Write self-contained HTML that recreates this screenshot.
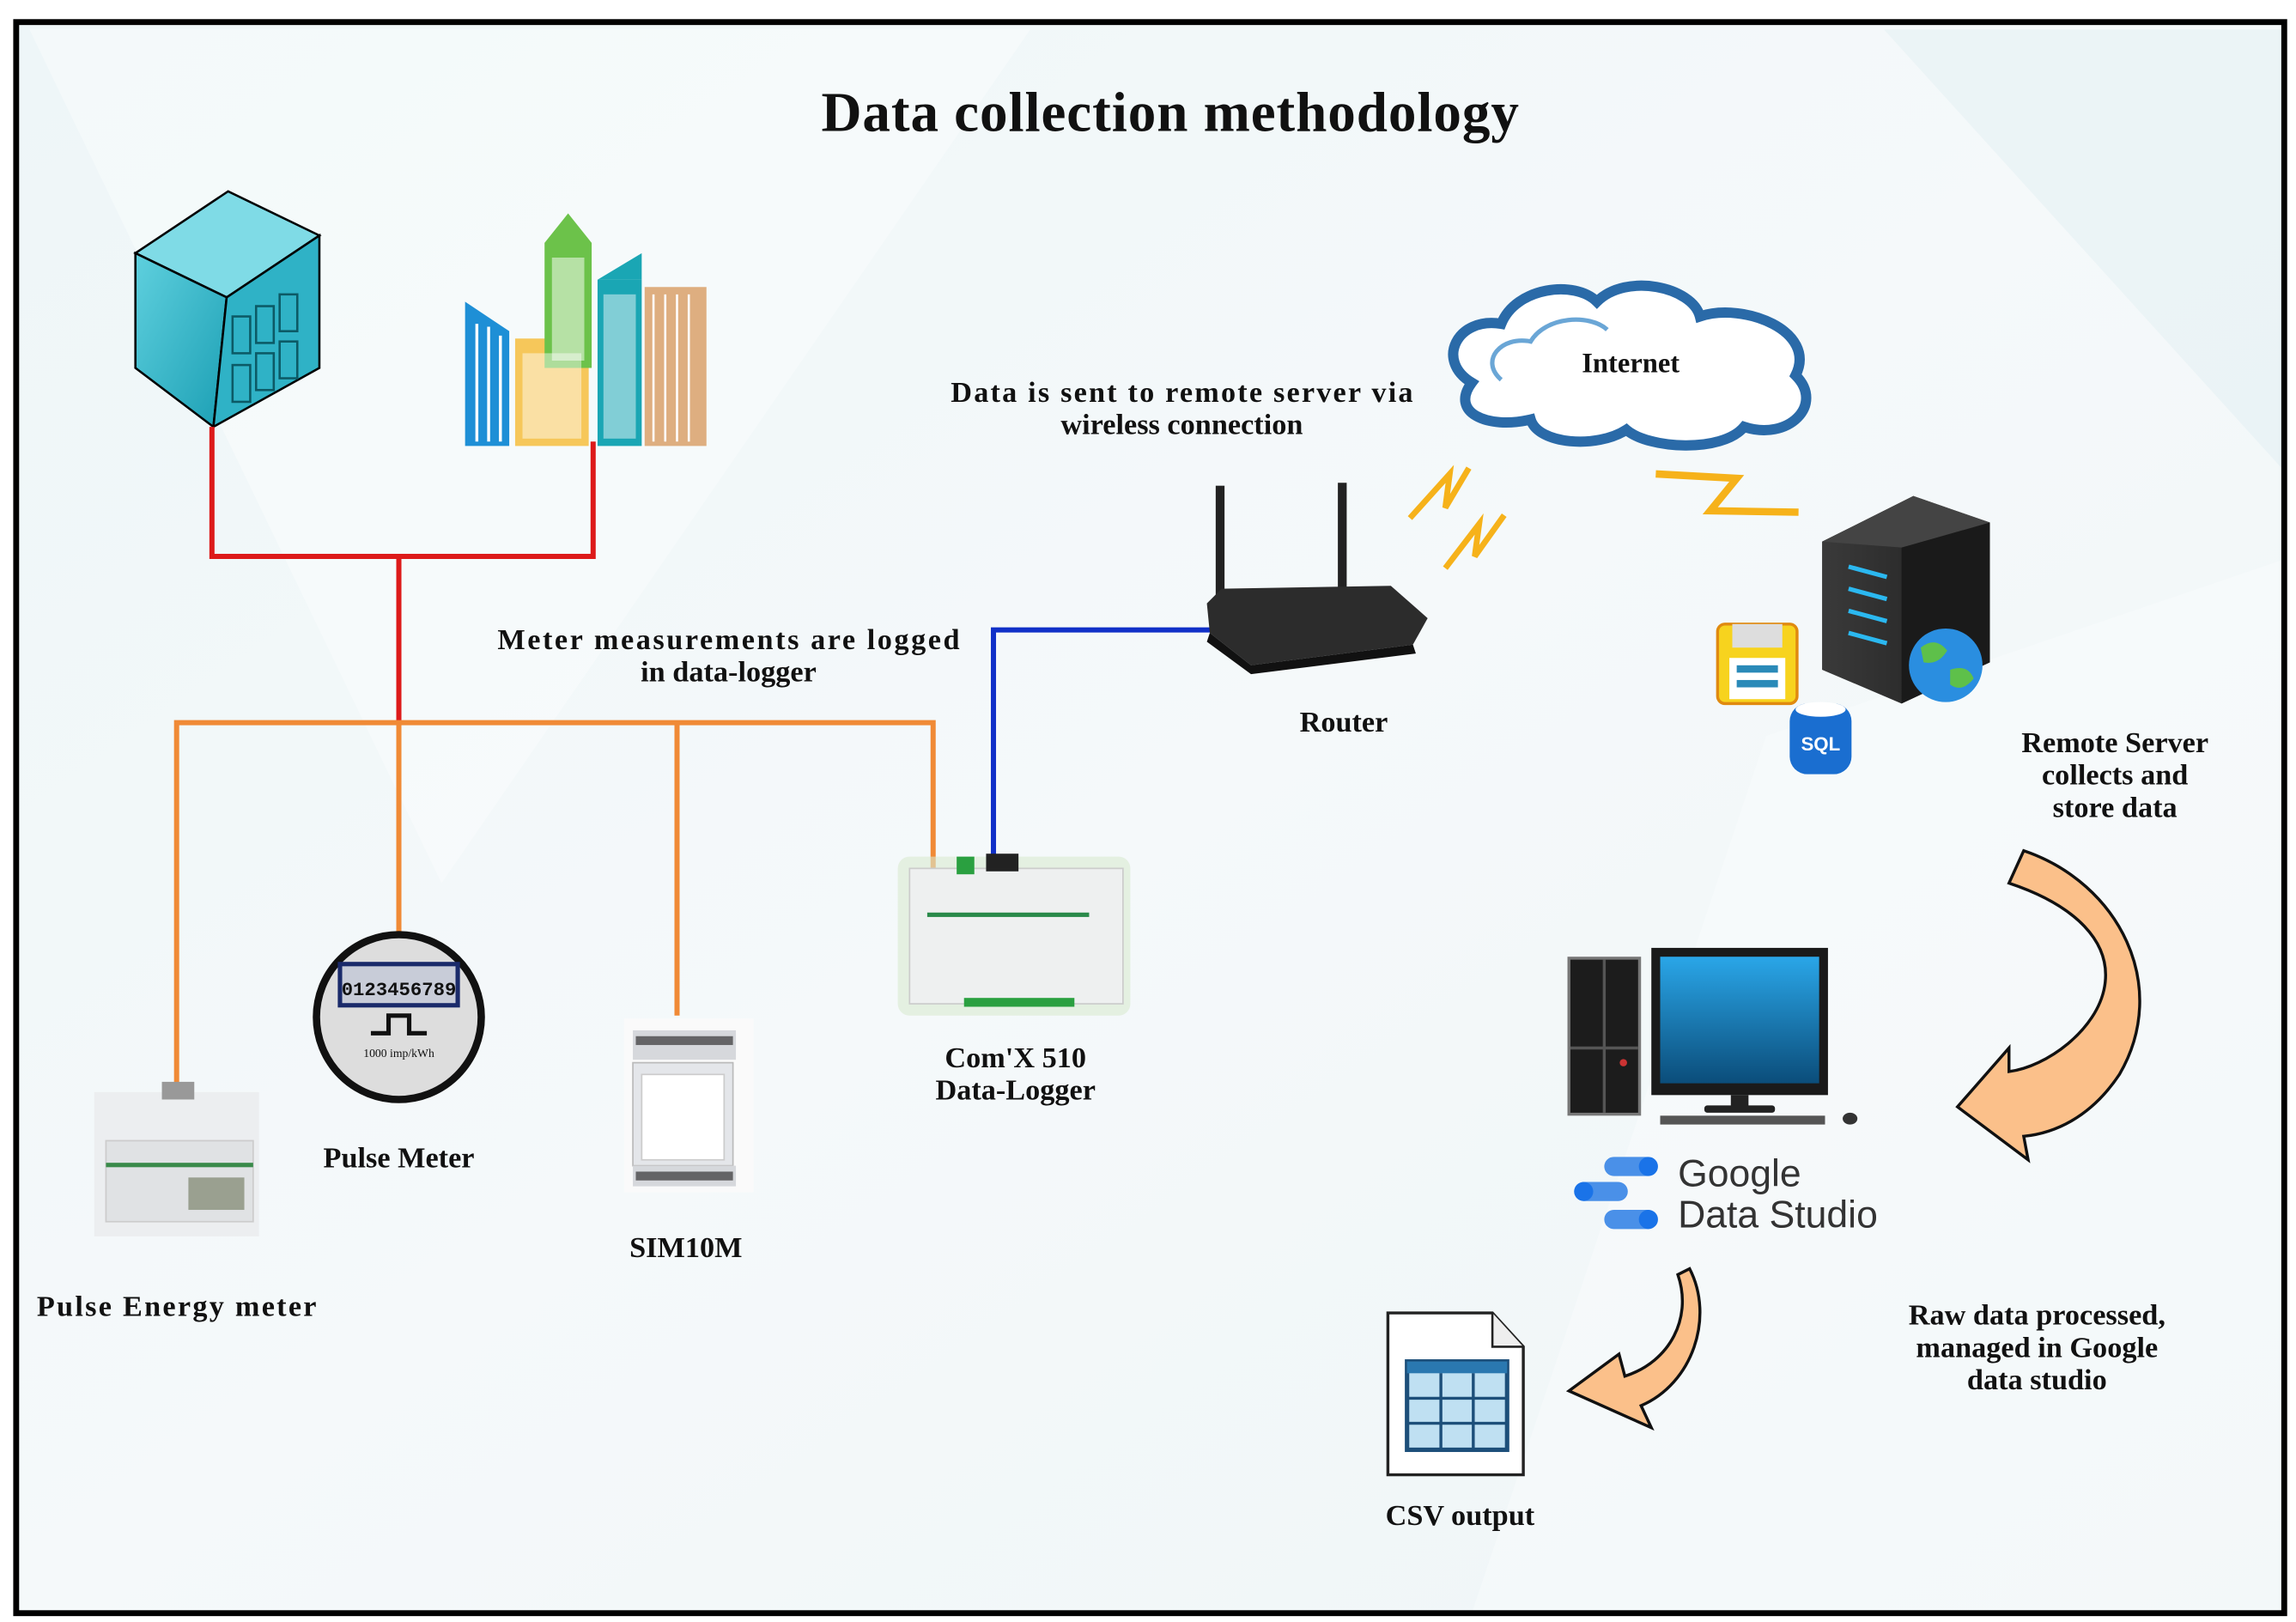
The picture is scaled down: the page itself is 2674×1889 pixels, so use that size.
<!DOCTYPE html>
<html><head><meta charset="utf-8"><style>
html,body{margin:0;padding:0;background:#fff;}
svg{display:block;}
text{font-family:"Liberation Serif",serif;fill:#111;}
.lb{font-size:20px;font-weight:bold;text-anchor:middle;}
</style></head><body>
<svg width="2674" height="1889" viewBox="0 0 1560 1102" xmlns="http://www.w3.org/2000/svg" preserveAspectRatio="none">
<defs>
<linearGradient id="bg" x1="0" y1="0" x2="1" y2="1">
<stop offset="0" stop-color="#eef6f8"/><stop offset="0.5" stop-color="#f5f9fa"/><stop offset="1" stop-color="#eef5f7"/>
</linearGradient>
<linearGradient id="tealf" x1="0" y1="0" x2="1" y2="1"><stop offset="0" stop-color="#5fd0de"/><stop offset="1" stop-color="#1b9fb4"/></linearGradient>
<linearGradient id="scr" x1="0" y1="0" x2="0" y2="1"><stop offset="0" stop-color="#2aa6e8"/><stop offset="1" stop-color="#0b4d7a"/></linearGradient>
<linearGradient id="srv" x1="0" y1="0" x2="1" y2="0"><stop offset="0" stop-color="#3a3a3a"/><stop offset="1" stop-color="#1e1e1e"/></linearGradient>
</defs>
<rect x="0" y="0" width="1560" height="1102" fill="#fff"/>
<rect x="11" y="15" width="1541" height="1081" fill="url(#bg)"/>
<polygon points="20,20 700,20 300,600" fill="#fff" opacity="0.35"/>
<polygon points="1280,20 1552,20 1552,320" fill="#e4f0f3" opacity="0.6"/>
<polygon points="1200,500 1552,380 1552,1096 1000,1096" fill="#fff" opacity="0.3"/>
<rect x="11" y="15" width="1541" height="1081" fill="none" stroke="#000" stroke-width="4"/>

<text x="795" y="89" textLength="474" style="font-size:38px;font-weight:bold;text-anchor:middle">Data collection methodology</text>

<!-- building 1 -->
<polygon points="92,172 155,130 217,160 154,202" fill="#7fdbe6" stroke="#000" stroke-width="1.5"/>
<polygon points="92,172 154,202 145,290 92,250" fill="url(#tealf)" stroke="#000" stroke-width="1.5"/>
<polygon points="154,202 217,160 217,250 145,290" fill="#2fb2c6" stroke="#000" stroke-width="1.5"/>
<g fill="none" stroke="#0c5a66" stroke-width="1.5">
<rect x="158" y="215" width="12" height="25"/><rect x="174" y="208" width="12" height="25"/><rect x="190" y="200" width="12" height="25"/>
<rect x="158" y="248" width="12" height="25"/><rect x="174" y="240" width="12" height="25"/><rect x="190" y="232" width="12" height="25"/>
</g>
<!-- city -->
<polygon points="316,205 346,225 346,303 316,303" fill="#1e8fd6"/>
<g stroke="#fff" stroke-width="2"><line x1="324" y1="220" x2="324" y2="300"/><line x1="332" y1="222" x2="332" y2="300"/><line x1="340" y1="228" x2="340" y2="300"/></g>
<rect x="350" y="230" width="50" height="73" fill="#f6c75a"/>
<polygon points="370,165 386,145 402,165 402,250 370,250" fill="#6cc24a"/>
<rect x="406" y="190" width="30" height="113" fill="#1aa6b4"/><polygon points="406,190 436,172 436,190" fill="#1aa6b4"/>
<rect x="438" y="195" width="42" height="108" fill="#deae80"/>
<g fill="#fff"><rect x="375" y="175" width="22" height="70" opacity="0.5"/><rect x="355" y="240" width="40" height="58" opacity="0.45"/><rect x="410" y="200" width="22" height="98" opacity="0.45"/></g>
<g stroke="#fff" stroke-width="1.5"><line x1="444" y1="200" x2="444" y2="300"/><line x1="452" y1="200" x2="452" y2="300"/><line x1="460" y1="200" x2="460" y2="300"/><line x1="468" y1="200" x2="468" y2="300"/></g>

<!-- red lines -->
<polyline points="144,290 144,378 403,378 403,300" fill="none" stroke="#dd1a1a" stroke-width="3.5"/>
<line x1="271" y1="378" x2="271" y2="491" stroke="#dd1a1a" stroke-width="3.5"/>
<!-- orange -->
<polyline points="120,740 120,491 634,491 634,590" fill="none" stroke="#f08a36" stroke-width="3.5"/>
<line x1="271" y1="491" x2="271" y2="636" stroke="#f08a36" stroke-width="3.5"/>
<line x1="460" y1="491" x2="460" y2="690" stroke="#f08a36" stroke-width="3.5"/>
<!-- blue -->
<polyline points="675,585 675,428 832,428" fill="none" stroke="#1030c8" stroke-width="3.5"/>

<text class="lb" x="495" y="441" textLength="314">Meter measurements are logged</text>
<text class="lb" x="495" y="463">in data-logger</text>
<text class="lb" x="803" y="273" textLength="314">Data is sent to remote server via</text>
<text class="lb" x="803" y="295">wireless connection</text>

<!-- router -->
<rect x="826" y="330" width="6" height="80" fill="#222"/><rect x="909" y="328" width="6" height="80" fill="#222"/>
<polygon points="820,410 830,400 945,398 970,420 960,438 850,452 822,430" fill="#2c2c2c"/>
<polygon points="822,430 850,452 960,438 962,444 850,458 820,436" fill="#111"/>
<text class="lb" x="913" y="497">Router</text>
<!-- bolts -->
<polyline points="958,352 985,322 982,345 998,318" fill="none" stroke="#f6b21a" stroke-width="4"/>
<polyline points="982,386 1005,356 1002,378 1022,350" fill="none" stroke="#f6b21a" stroke-width="4"/>
<polyline points="1125,322 1180,325 1162,347 1222,348" fill="none" stroke="#f6b21a" stroke-width="5"/>
<!-- cloud -->
<path d="M1000,260 C975,245 990,215 1020,220 C1030,195 1070,190 1085,205 C1105,185 1150,195 1155,215 C1185,205 1235,225 1220,255 C1240,275 1215,300 1185,290 C1170,308 1120,305 1105,292 C1085,305 1045,302 1040,285 C1010,292 985,280 1000,260 Z" fill="#fff" stroke="#2a6aa8" stroke-width="7"/>
<path d="M1020,258 C1005,245 1020,228 1040,232 C1050,215 1080,213 1092,224" fill="none" stroke="#6aa6d6" stroke-width="3"/>
<text x="1108" y="253" style="font-size:19px;font-weight:bold;text-anchor:middle">Internet</text>
<!-- server -->
<polygon points="1238,368 1300,337 1352,355 1352,450 1292,478 1238,455" fill="url(#srv)"/>
<polygon points="1292,372 1352,355 1352,450 1292,478" fill="#1a1a1a"/>
<polygon points="1238,368 1300,337 1352,355 1292,372" fill="#444"/>
<g stroke="#2bb8f0" stroke-width="3"><line x1="1256" y1="385" x2="1282" y2="392"/><line x1="1256" y1="400" x2="1282" y2="407"/><line x1="1256" y1="415" x2="1282" y2="422"/><line x1="1256" y1="430" x2="1282" y2="437"/></g>
<circle cx="1322" cy="452" r="25" fill="#2a8ee0"/><path d="M1305,440 q10,-8 18,2 q-6,10 -16,8z M1325,455 q12,-4 16,6 q-8,10 -16,4z" fill="#5ec04a"/>
<rect x="1167" y="424" width="54" height="54" rx="5" fill="#f7d31e" stroke="#e08a10" stroke-width="2"/>
<rect x="1177" y="424" width="34" height="16" fill="#ddd"/><rect x="1175" y="447" width="38" height="28" fill="#fff"/>
<rect x="1180" y="452" width="28" height="5" fill="#2a8ab8"/><rect x="1180" y="462" width="28" height="5" fill="#2a8ab8"/>
<rect x="1216" y="478" width="42" height="48" rx="12" fill="#1a6ed0"/><ellipse cx="1237" cy="482" rx="17" ry="5" fill="#fff"/>
<text x="1237" y="510" style="font-family:'Liberation Sans',sans-serif;font-size:13px;font-weight:bold;fill:#fff;text-anchor:middle">SQL</text>
<text class="lb" x="1437" y="511">Remote Server</text>
<text class="lb" x="1437" y="533">collects and</text>
<text class="lb" x="1437" y="555">store data</text>

<!-- big arrow -->
<path d="M1365,600 L1375,578 C1440,600 1475,670 1440,730 C1420,760 1395,770 1375,772 L1378,788 L1330,752 L1365,712 L1365,728 C1390,725 1425,700 1430,670 C1435,640 1410,615 1365,600 Z" fill="#fbc08a" stroke="#111" stroke-width="2"/>

<!-- computer -->
<rect x="1066" y="651" width="48" height="106" fill="#1c1c1c" stroke="#777" stroke-width="2"/>
<line x1="1090" y1="652" x2="1090" y2="756" stroke="#555" stroke-width="2"/><line x1="1067" y1="712" x2="1113" y2="712" stroke="#555" stroke-width="2"/>
<circle cx="1103" cy="722" r="2.5" fill="#c33"/>
<rect x="1122" y="644" width="120" height="100" fill="#1a1a1a"/>
<rect x="1128" y="650" width="108" height="86" fill="url(#scr)"/>
<rect x="1176" y="744" width="12" height="8" fill="#222"/><rect x="1158" y="751" width="48" height="5" rx="2" fill="#222"/>
<rect x="1128" y="758" width="112" height="6" fill="#555"/><ellipse cx="1257" cy="760" rx="5" ry="4" fill="#333"/>
<!-- GDS logo -->
<g fill="#1a73e8"><rect x="1090" y="786" width="36" height="13" rx="6.5" fill="#4a90e8"/><circle cx="1120" cy="792.5" r="6.5"/>
<rect x="1070" y="803" width="36" height="13" rx="6.5" fill="#4a90e8"/><circle cx="1076" cy="809.5" r="6.5"/>
<rect x="1090" y="822" width="36" height="13" rx="6.5" fill="#4a90e8"/><circle cx="1120" cy="828.5" r="6.5"/></g>
<text x="1140" y="806" style="font-family:'Liberation Sans',sans-serif;font-size:26px;fill:#333">Google</text>
<text x="1140" y="834" style="font-family:'Liberation Sans',sans-serif;font-size:26px;fill:#333">Data Studio</text>
<!-- small arrow -->
<path d="M1140,866 L1148,862 C1165,895 1150,940 1115,955 L1122,970 L1066,945 L1100,920 L1104,935 C1135,925 1150,895 1140,866 Z" fill="#fbc08a" stroke="#111" stroke-width="2"/>
<!-- csv -->
<path d="M943,892 L1014,892 L1035,915 L1035,1002 L943,1002 Z" fill="#fff" stroke="#222" stroke-width="2"/>
<path d="M1014,892 L1014,915 L1035,915" fill="#eee" stroke="#222" stroke-width="1.5"/>
<rect x="956" y="925" width="68" height="60" fill="#bfe0f2" stroke="#1d4f7a" stroke-width="3"/>
<rect x="956" y="925" width="68" height="8" fill="#2a78b0"/>
<g stroke="#1d4f7a" stroke-width="2"><line x1="979" y1="933" x2="979" y2="985"/><line x1="1001" y1="933" x2="1001" y2="985"/><line x1="956" y1="950" x2="1024" y2="950"/><line x1="956" y1="967" x2="1024" y2="967"/></g>
<text class="lb" x="992" y="1036">CSV output</text>
<text class="lb" x="1384" y="900">Raw data processed,</text>
<text class="lb" x="1384" y="922">managed in Google</text>
<text class="lb" x="1384" y="944">data studio</text>

<!-- pulse meter -->
<circle cx="271" cy="691" r="56" fill="#ddd" stroke="#111" stroke-width="5"/>
<rect x="231" y="655" width="80" height="28" fill="#c8ccd8" stroke="#1a2a6a" stroke-width="3"/>
<text x="271" y="676" style="font-family:'Liberation Mono',monospace;font-size:13px;font-weight:bold;text-anchor:middle">0123456789</text>
<polyline points="252,702 264,702 264,690 278,690 278,702 290,702" fill="none" stroke="#111" stroke-width="3"/>
<text x="271" y="718" style="font-size:8px;text-anchor:middle">1000 imp/kWh</text>
<text class="lb" x="271" y="793">Pulse Meter</text>
<!-- SIM10M -->
<rect x="424" y="692" width="88" height="118" fill="#fafafa"/>
<rect x="430" y="700" width="70" height="20" fill="#d6d8dc"/><rect x="432" y="704" width="66" height="6" fill="#333" opacity="0.7"/>
<rect x="430" y="722" width="68" height="70" fill="#e4e6ea" stroke="#bbb"/><rect x="436" y="730" width="56" height="58" fill="#fff" stroke="#ccc"/>
<rect x="430" y="792" width="70" height="14" fill="#d6d8dc"/><rect x="432" y="796" width="66" height="6" fill="#333" opacity="0.7"/>
<text class="lb" x="466" y="854">SIM10M</text>
<!-- energy meter -->
<rect x="64" y="742" width="112" height="98" fill="#eceef0"/>
<rect x="110" y="735" width="22" height="12" fill="#999"/>
<rect x="72" y="775" width="100" height="55" fill="#e0e2e4" stroke="#ccc"/>
<rect x="72" y="790" width="100" height="3" fill="#3a8a4a"/>
<rect x="128" y="800" width="38" height="22" fill="#9aa090"/>
<text class="lb" x="120" y="894" textLength="190">Pulse Energy meter</text>
<!-- logger -->
<rect x="610" y="582" width="158" height="108" fill="#d8ead0" opacity="0.6" rx="8"/>
<rect x="618" y="590" width="145" height="92" fill="#eef0f0" stroke="#ccc"/>
<rect x="650" y="582" width="12" height="12" fill="#2aa040"/><rect x="670" y="580" width="22" height="12" fill="#222"/>
<rect x="630" y="620" width="110" height="3" fill="#2a8a4a"/>
<rect x="655" y="678" width="75" height="6" fill="#2aa040"/>
<text class="lb" x="690" y="725">Com'X 510</text>
<text class="lb" x="690" y="747">Data-Logger</text>
</svg>
</body></html>
